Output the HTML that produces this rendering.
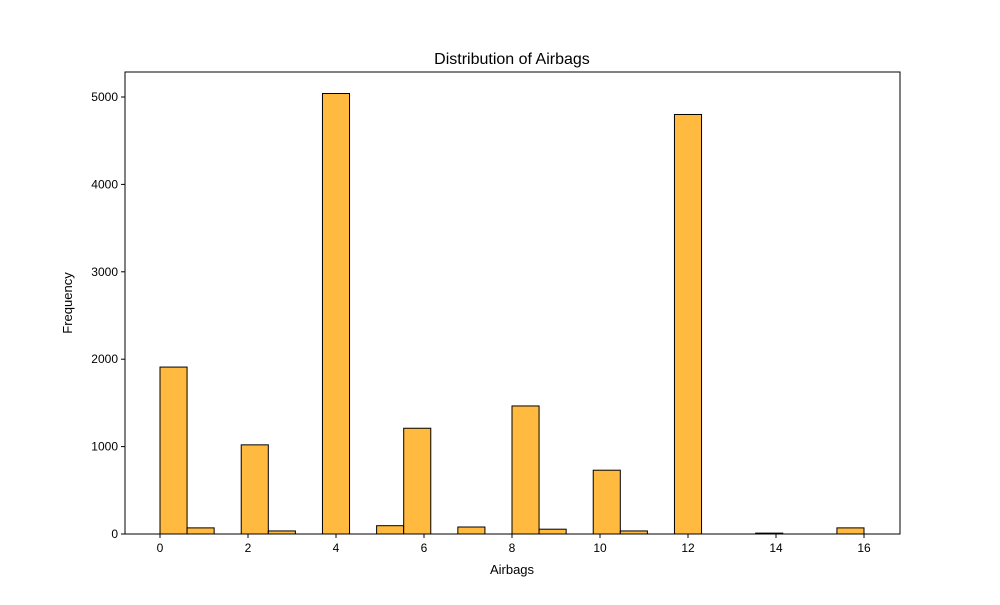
<!DOCTYPE html>
<html><head><meta charset="utf-8"><style>
body{margin:0;background:#fff;font-family:"Liberation Sans","DejaVu Sans",sans-serif}
</style></head><body>
<svg id="c" width="1000" height="600" xmlns="http://www.w3.org/2000/svg"></svg>
<script>
const binCounts=[1910,70,0,1020,35,0,5040,0,95,1210,0,80,0,1465,55,0,730,35,0,4800,0,0,10,0,0,70];
const xTicks=[0,2,4,6,8,10,12,14,16];
const yTicks=[0,1000,2000,3000,4000,5000];
const xMin=0,xMax=16;
const L=125,R=900,T=72,B=534;
const xs=v=>160+(v-xMin)*44;
const ys=v=>534-v*437/5000;
const svg=document.getElementById('c');
const NS='http://www.w3.org/2000/svg';
function mk(t,a,p){const e=document.createElementNS(NS,t);for(const k in a)e.setAttribute(k,a[k]);(p||svg).appendChild(e);return e;}
const bw=(xMax-xMin)/binCounts.length;
const bars=mk('g',{});


binCounts.forEach((c,i)=>{
  if(c<=0)return;
  const x0=xs(xMin+i*bw),x1=xs(xMin+(i+1)*bw);
  const r=mk('rect',{x:x0,y:ys(c),width:x1-x0,height:ys(0)-ys(c),fill:'#ffba3f',stroke:'#000','stroke-width':1},bars);
  
  
});
const frame=mk('rect',{x:L,y:T,width:R-L,height:B-T,fill:'none',stroke:'#000','stroke-width':1});


xTicks.forEach(v=>{
  const x=xs(v);
  mk('line',{x1:x,x2:x,y1:B,y2:B+4,stroke:'#000'});
  const t=mk('text',{x:x,y:B+18,'text-anchor':'middle','font-size':12});
  t.textContent=v;
  
  
});
yTicks.forEach(v=>{
  const y=ys(v);
  mk('line',{x1:L-4,x2:L,y1:y,y2:y,stroke:'#000'});
  const t=mk('text',{x:L-7,y:y+4,'text-anchor':'end','font-size':12});
  t.textContent=v;
  
  
});
const xt=mk('text',{x:512,y:574,'text-anchor':'middle','font-size':13});
xt.textContent='Airbags';


const yt=mk('text',{x:72,y:303,'text-anchor':'middle','font-size':13,transform:'rotate(-90 72 303)'});
yt.textContent='Frequency';


const tt=mk('text',{x:512,y:64,'text-anchor':'middle','font-size':16});
tt.textContent='Distribution of Airbags';


</script>
</body></html>
